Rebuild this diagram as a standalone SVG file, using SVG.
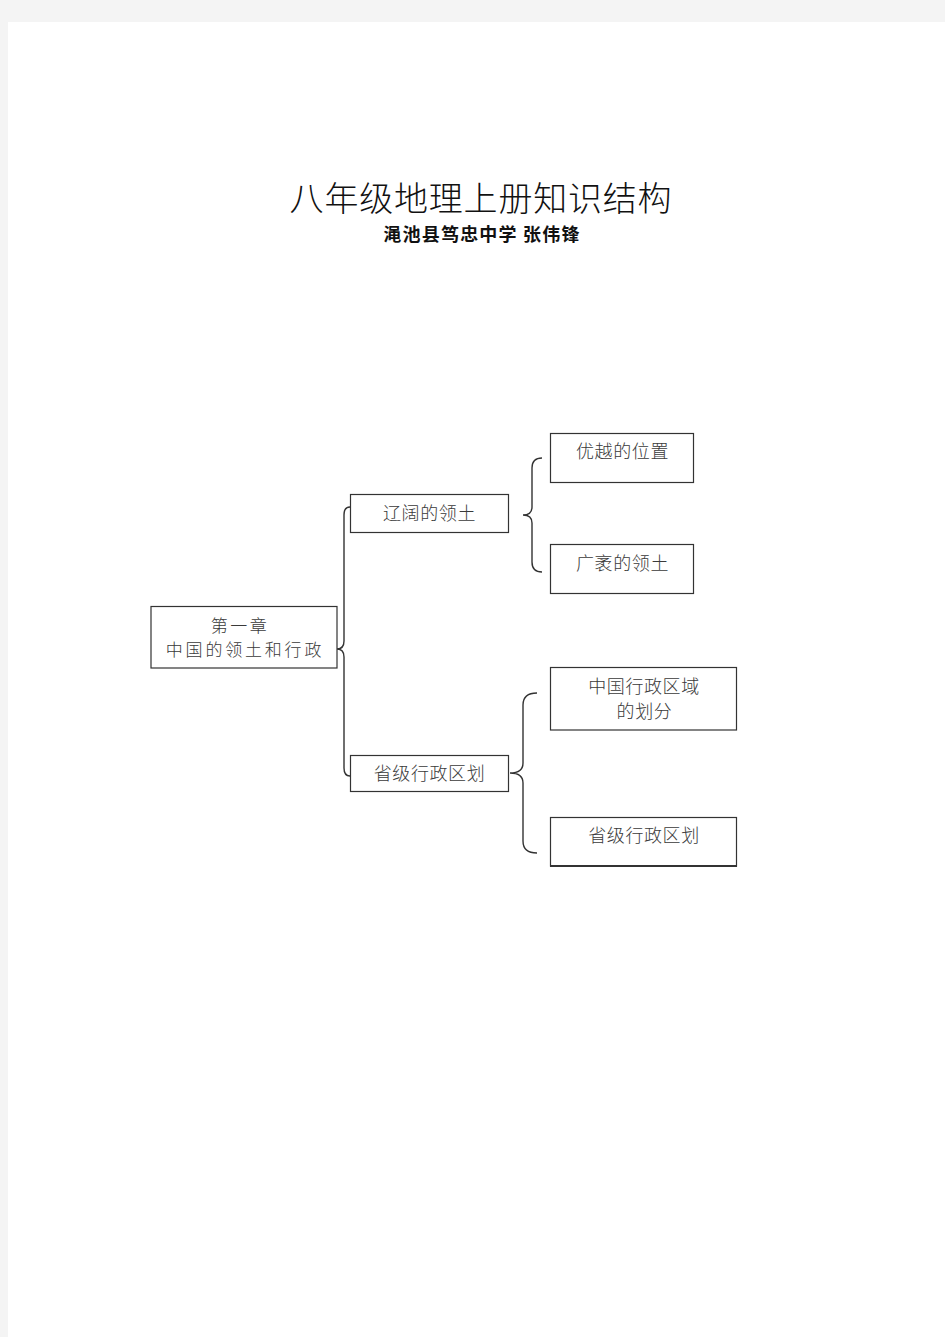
<svg xmlns="http://www.w3.org/2000/svg" width="945" height="1337" viewBox="0 0 945 1337">
<style>
.box{fill:#fff;stroke:#333;stroke-width:1.2}
.t{font-family:"Noto Sans CJK SC","Noto Sans CJK TC",sans-serif;font-weight:300;font-size:18px;fill:#3a3a3a;text-anchor:middle;dominant-baseline:central;letter-spacing:0.6px}
.br{fill:none;stroke:#333;stroke-width:1.4}
</style>
<rect x="0" y="0" width="945" height="1337" fill="#f4f4f4"/>
<rect x="8" y="22" width="937" height="1315" fill="#fff"/>
<text x="481" y="196" font-family="'Noto Sans CJK SC',sans-serif" font-weight="300" font-size="34" fill="#111" text-anchor="middle" dominant-baseline="central" letter-spacing="0.8">八年级地理上册知识结构</text>
<text x="482" y="233" font-family="'Noto Sans CJK SC',sans-serif" font-weight="bold" font-size="18" fill="#111" text-anchor="middle" dominant-baseline="central" letter-spacing="1.2">渑池县笃忠中学 张伟锋</text>
<g id="connectors">
<path class="br" d="M350,507 Q344,507 344,515 L344,641 Q344,649 337,649 Q344,649 344,657 L344,768 Q344,776 350,776"/>
<path class="br" d="M542,458 Q532,458 532,468 L532,507 Q532,515 523,515 Q532,515 532,523 L532,562 Q532,572 542,572"/>
<path class="br" d="M537,693 Q523,693 523,705 L523,763 Q523,773 510,773 Q523,773 523,783 L523,841 Q523,853 537,853"/>
</g>
<g id="root">
<rect class="box" x="151" y="606.5" width="186" height="61.5"/>
<text class="t" x="240" y="624" style="font-size:17px;letter-spacing:2.5px">第一章</text>
<text class="t" x="245" y="648" style="font-size:17px;letter-spacing:2.8px">中国的领土和行政</text>
</g>
<g id="n-liaokuo">
<rect class="box" x="350.5" y="494.5" width="158" height="38"/>
<text class="t" x="429.5" y="512">辽阔的领土</text>
</g>
<g id="n-shengji">
<rect class="box" x="350.5" y="755.5" width="158" height="36"/>
<text class="t" x="429.5" y="772">省级行政区划</text>
</g>
<g id="n-youyue">
<rect class="box" x="550.5" y="433.5" width="143" height="49"/>
<text class="t" x="622.5" y="450">优越的位置</text>
</g>
<g id="n-guangmao">
<rect class="box" x="550.5" y="544.5" width="143" height="49"/>
<text class="t" x="622.5" y="562">广袤的领土</text>
</g>
<g id="n-huafen">
<rect class="box" x="550.5" y="667.5" width="186" height="62.5"/>
<text class="t" x="644" y="685">中国行政区域</text>
<text class="t" x="644.5" y="710">的划分</text>
</g>
<g id="n-shengji2">
<rect class="box" x="550.5" y="817.5" width="186" height="48.5"/>
<line x1="550" y1="866" x2="737" y2="866" stroke="#333" stroke-width="2"/>
<text class="t" x="644" y="834">省级行政区划</text>
</g>
</svg>
